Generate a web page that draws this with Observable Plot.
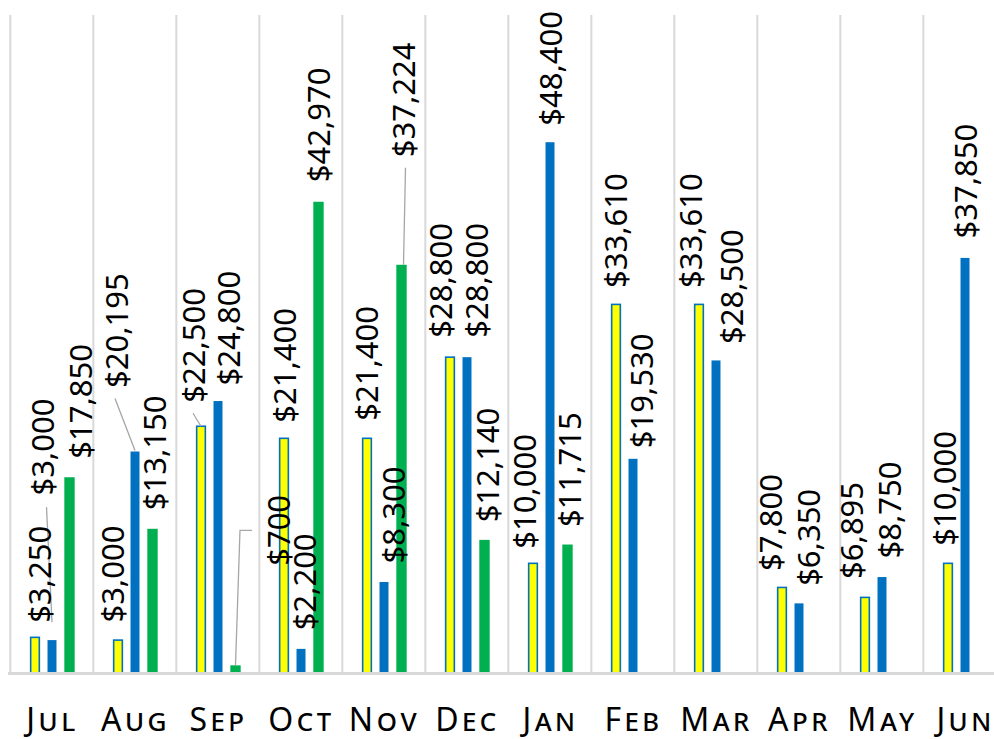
<!DOCTYPE html>
<html><head><meta charset="utf-8">
<script src="https://cdn.jsdelivr.net/npm/d3@7"></script>
<script src="https://cdn.jsdelivr.net/npm/@observablehq/plot@0.6"></script>
<style>
html,body{margin:0;padding:0;background:#fff;}
#chart svg{display:block;}
#chart g[aria-label="x-axis tick label"] text{letter-spacing:3.5px;}
</style></head><body><div id="chart"></div>
<script>
// ---- data ----
const months = ["Jul","Aug","Sep","Oct","Nov","Dec","Jan","Feb","Mar","Apr","May","Jun"];
const yellowValues = [3250, 3000, 22500, 21400, 21400, 28800, 10000, 33610, 33610, 7800, 6895, 10000];
const blueValues   = [3000, 20195, 24800, 2200, 8300, 28800, 48400, 19530, 28500, 6350, 8750, 37850];
const greenValues  = [17850, 13150, 700, 42970, 37224, 12140, 11715, null, null, null, null, null];

// label placement (pixel offsets of each data label from its bar's top centre)
const yellowLabelOffsets = [[6,-15],[-4,-18],[-6,-24],[2,-16],[1,-18],[-8,-20],[-7,-15],[1,-17],[-7,-17],[-10,-17],[-12,-19],[-2,-18]];
const blueLabelOffsets   = [[-8,-145],[-17,-64],[12,-16],[5,-19],[11,-19],[11,-20],[2,-17],[10,-11],[17,-17],[11,-18],[9,-19],[2,-20]];
const greenLabelOffsets  = [[12,-19],[3,-19],[44,-100],[1,-20],[3,-108],[4,-18],[3,-18]];

// leader lines: series, month, polyline points relative to bar top centre (px)
const leaders = [
  {series: "blue",   month: "Jul", pts: [[0,-18],[-5.5,-133]]},
  {series: "blue",   month: "Aug", pts: [[0,-1],[-20,-53]]},
  {series: "yellow", month: "Sep", pts: [[0,0],[-8,-13]]},
  {series: "green",  month: "Sep", pts: [[0,0],[4.5,-135],[16.5,-135]]},
  {series: "green",  month: "Nov", pts: [[2,0],[4,-97]]}
];

// ---- build ----
const series = [
  {key: "yellow", values: yellowValues, offsets: yellowLabelOffsets, fill: "#FFFF00", stroke: "#0070C0", strokeWidth: 1.6, width: 9, shift: -16.5},
  {key: "blue",   values: blueValues,   offsets: blueLabelOffsets,   fill: "#0070C0", stroke: "none", strokeWidth: 0, width: 9.3, shift: 0.5},
  {key: "green",  values: greenValues,  offsets: greenLabelOffsets,  fill: "#00B050", stroke: "none", strokeWidth: 0, width: 10.7, shift: 18}
];
const step = 1000 / 12;
const fmt = v => "$" + d3.format(",")(v);

const marks = [];
// vertical category gridlines
marks.push(Plot.ruleX(months, {x: d => d, dx: -step / 2, y1: 0, y2: 60000, stroke: "#d9d9d9", strokeWidth: 2}));
// bars
for (const s of series) {
  const rows = months.map((m, i) => ({month: m, value: s.values[i]})).filter(d => d.value != null);
  const inset = (step - s.width) / 2;
  marks.push(Plot.barY(rows, {x: "month", y: "value", fill: s.fill, stroke: s.stroke, strokeWidth: s.strokeWidth,
    insetLeft: inset, insetRight: inset, dx: s.shift}));
}
// baseline
marks.push(Plot.ruleY([0], {stroke: "#d9d9d9", strokeWidth: 3}));
// leader lines
marks.push((index, scales) => {
  const g = d3.create("svg:g").attr("fill", "none").attr("stroke", "#a6a6a6").attr("stroke-width", 1.3);
  const x = scales.x, y = scales.y;
  const bw = x(months[1]) - x(months[0]);
  for (const L of leaders) {
    const s = series.find(t => t.key === L.series);
    const v = s.values[months.indexOf(L.month)];
    const cx = x(L.month) + bw / 2 + s.shift;
    const top = y(v);
    g.append("path").attr("d", d3.line()(L.pts.map(([a, b]) => [cx + a, top + b])));
  }
  return g.node();
});
// data labels
for (const s of series) {
  let k = 0;
  months.forEach((m, i) => {
    const v = s.values[i];
    if (v == null) return;
    const off = s.offsets[k++];
    marks.push(Plot.text([{month: m, value: v}], {x: "month", y: "value", text: d => fmt(d.value),
      rotate: -90, textAnchor: "start", lineAnchor: "middle", dx: s.shift + off[0], dy: off[1],
      fontSize: 31, fill: "#000"}));
  });
}
// month axis
marks.push(Plot.axisX({tickSize: 0, tickPadding: 35, fontSize: 32, fontVariant: "small-caps", fill: "#000", label: null, dx: 0.5}));

const chart = Plot.plot({
  width: 994,
  height: 739,
  marginTop: 15,
  marginBottom: 66,
  marginLeft: 8,
  marginRight: 0,
  style: {fontFamily: "'Noto Sans', sans-serif", background: "#fff", color: "#000"},
  x: {domain: months, range: [8.33, 1008.33], padding: 0, label: null},
  y: {domain: [0, 60000], axis: null},
  marks
});
document.getElementById("chart").appendChild(chart);
</script>
</body></html>
